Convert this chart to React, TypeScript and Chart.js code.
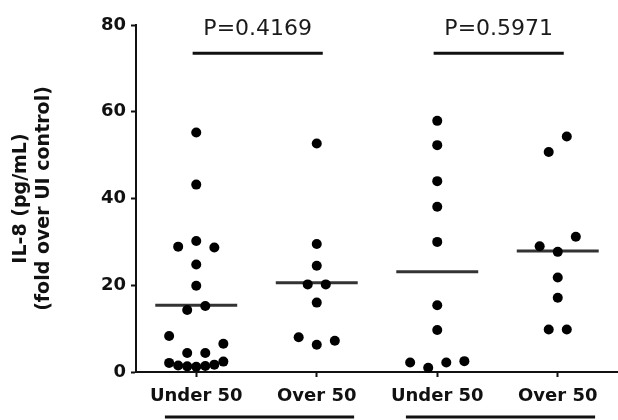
import React, { useEffect, useRef } from 'react';
import { Chart, registerables } from 'chart.js';

Chart.register(...registerables);

// ---- data ----
const categories = ['Under 50', 'Over 50', 'Under 50', 'Over 50'];
const under50First = [55.2, 43.2, 28.9, 30.2, 28.7, 24.8, 19.9, 14.3, 15.2, 8.3, 4.4, 4.4, 6.5, 2.1, 1.5, 1.3, 1.2, 1.4, 1.7, 2.4];
const over50First = [52.7, 29.5, 24.5, 20.2, 20.2, 16.0, 8.0, 6.3, 7.2];
const under50Second = [57.9, 52.3, 44.0, 38.1, 30.0, 15.4, 9.7, 2.2, 1.0, 2.2, 2.5];
const over50Second = [50.7, 54.3, 29.0, 27.7, 31.2, 21.8, 17.1, 9.8, 9.8];
const groupMeans = [15.4, 20.6, 23.1, 27.9];
const yTickValues = [0, 20, 40, 60, 80];
const comparisonPairs = [[0, 1], [2, 3]];
const pLabels = ['P=0.4169', 'P=0.5971'];
const bracketLevel = 73.5;

const groups = [under50First, over50First, under50Second, over50Second];

// column-scatter spreading: points with close values share a row and are spread symmetrically
function spread(values: number[], threshold = 4.0, step = 0.15, maxSpan = 0.45): number[] {
  const order = values.map((_, i) => i).sort((a, b) => values[b] - values[a]);
  const rows: number[][] = [];
  for (const i of order) {
    const last = rows[rows.length - 1];
    if (last && values[last[0]] - values[i] <= threshold) last.push(i);
    else rows.push([i]);
  }
  const offsets = new Array(values.length).fill(0);
  for (const row of rows) {
    row.sort((a, b) => a - b);
    const n = row.length;
    const s = n > 1 ? Math.min(step, maxSpan / (n - 1)) : 0;
    row.forEach((i, k) => {
      offsets[i] = (k - (n - 1) / 2) * s;
    });
  }
  return offsets;
}

const FONT = '"DejaVu Sans", "Liberation Sans", Arial, sans-serif';
const INK = '#111';

const annotationPlugin = {
  id: 'annotationPlugin',
  afterLayout(chart: any) {
    // let the plot run to the right edge of the canvas, as in the reference
    const x = chart.scales.x;
    const target = chart.width;
    if (x && x.right < target) {
      x.right = target;
      x.width = x.right - x.left;
      x.configure();
      chart.chartArea.right = target;
      chart.chartArea.width = target - chart.chartArea.left;
    }
  },
  afterDraw(chart: any) {
    const { ctx, scales } = chart;
    const x = scales.x;
    const y = scales.y;
    ctx.save();
    ctx.fillStyle = '#1a1a1a';
    ctx.font = `22px ${FONT}`;
    ctx.textAlign = 'center';
    ctx.textBaseline = 'alphabetic';
    const py = y.getPixelForValue(bracketLevel);
    comparisonPairs.forEach(([a, b], k) => {
      const cx = (x.getPixelForValue(a - 0.03) + x.getPixelForValue(b + 0.05)) / 2;
      ctx.fillText(pLabels[k], cx, py - 18);
    });
    // underline bars grouping the category labels
    ctx.strokeStyle = INK;
    ctx.lineWidth = 3;
    const uy = chart.chartArea.bottom + 45;
    comparisonPairs.forEach(([a, b]) => {
      ctx.beginPath();
      ctx.moveTo(x.getPixelForValue(a - 0.26), uy);
      ctx.lineTo(x.getPixelForValue(b + 0.31), uy);
      ctx.stroke();
    });
    ctx.restore();
  },
};

export default function App() {
  const canvasRef = useRef<HTMLCanvasElement | null>(null);

  useEffect(() => {
    if (!canvasRef.current) return;

    const pointSets = groups.map((vals, i) => {
      const off = spread(vals);
      return {
        type: 'scatter' as const,
        data: vals.map((v, k) => ({ x: i + off[k], y: v })),
        pointRadius: 5,
        pointHoverRadius: 5,
        backgroundColor: '#000',
        borderWidth: 0,
        showLine: false,
        clip: false as any,
        order: 0,
      };
    });

    const meanSets = groupMeans.map((m, i) => ({
      type: 'scatter' as const,
      data: [
        { x: i - 0.34, y: m },
        { x: i + 0.34, y: m },
      ],
      showLine: true,
      borderColor: '#333',
      borderWidth: 3,
      pointRadius: 0,
      clip: false as any,
      order: 1,
    }));

    const bracketSets = comparisonPairs.map(([a, b]) => ({
      type: 'scatter' as const,
      data: [
        { x: a - 0.03, y: bracketLevel },
        { x: b + 0.05, y: bracketLevel },
      ],
      showLine: true,
      borderColor: INK,
      borderWidth: 3,
      pointRadius: 0,
      clip: false as any,
      order: 1,
    }));

    const chart = new Chart(canvasRef.current, {
      type: 'scatter',
      data: { datasets: [...pointSets, ...meanSets, ...bracketSets] as any },
      plugins: [annotationPlugin],
      options: {
        animation: false,
        responsive: true,
        maintainAspectRatio: false,
        layout: { padding: { top: 25, right: 0, bottom: 0, left: 0 } },
        plugins: {
          legend: { display: false },
          tooltip: { enabled: false },
        },
        scales: {
          x: {
            type: 'linear',
            min: -0.5,
            max: 3.5,
            afterBuildTicks: (s: any) => {
              s.ticks = categories.map((_, i) => ({ value: i }));
            },
            afterFit: (s: any) => {
              s.height = 48;
            },
            ticks: {
              autoSkip: false,
              maxRotation: 0,
              minRotation: 0,
              padding: 9,
              color: INK,
              font: { family: FONT, size: 18, weight: 'bold' },
              callback: (v: any) => categories[Math.round(Number(v))] ?? '',
            },
            grid: {
              display: true,
              drawOnChartArea: false,
              drawTicks: true,
              tickLength: 5,
              tickWidth: 2,
              tickColor: INK,
            },
            border: { display: true, color: INK, width: 2 },
          },
          y: {
            type: 'linear',
            min: 0,
            max: 80,
            afterBuildTicks: (s: any) => {
              s.ticks = yTickValues.map((v) => ({ value: v }));
            },
            afterFit: (s: any) => {
              s.width = 136;
            },
            ticks: {
              padding: 5,
              color: INK,
              font: { family: FONT, size: 18, weight: 'bold' },
            },
            grid: {
              display: true,
              drawOnChartArea: false,
              drawTicks: true,
              tickLength: 5,
              tickWidth: 2,
              tickColor: INK,
            },
            border: { display: true, color: INK, width: 2 },
            title: {
              display: true,
              text: ['IL-8 (pg/mL)', '(fold over UI control)'],
              color: INK,
              font: { family: FONT, size: 19, weight: 'bold', lineHeight: 1.2 },
              padding: { top: 10, bottom: 0 },
            },
          },
        },
      },
    });

    return () => chart.destroy();
  }, []);

  return (
    <div style={{ position: 'absolute', left: 0, top: 0, width: 618, height: 420, background: '#fff' }}>
      <canvas ref={canvasRef} />
    </div>
  );
}
